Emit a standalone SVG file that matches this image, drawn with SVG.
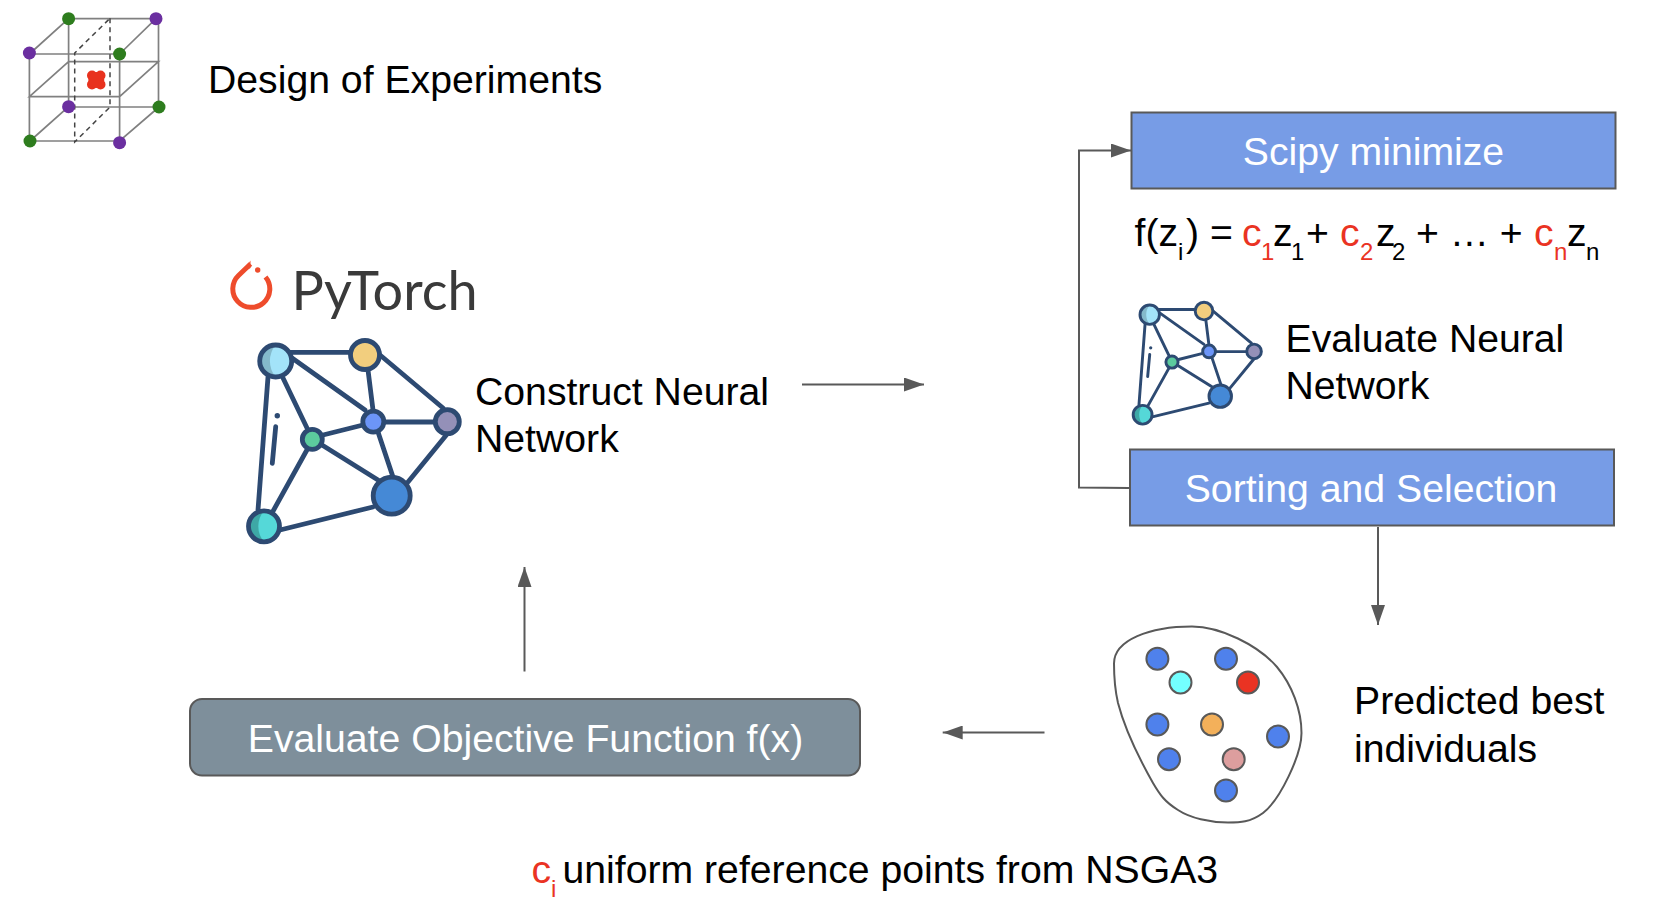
<svg xmlns="http://www.w3.org/2000/svg" xmlns:xlink="http://www.w3.org/1999/xlink" width="1656" height="912" viewBox="0 0 1656 912">
<style>
text{font-family:"Liberation Sans",Arial,sans-serif;font-size:39.2px;fill:#000}
.w{fill:#fff;text-anchor:middle}
.r{fill:#ea3323}
.s{font-size:24px}
.conn{fill:none;stroke:#595959;stroke-width:2}
.box{fill:#779ce6;stroke:#595959;stroke-width:2}
.cube{fill:none;stroke:#808080;stroke-width:1.700}
.dash{fill:none;stroke:#444;stroke-width:1.500;stroke-dasharray:5 4}
.pu{fill:#6b2fa0}.gr{fill:#2e7d1e}
.e{fill:none;stroke:#2d4a72;stroke-width:4.800;stroke-linecap:round}
.o{fill:none;stroke:#2d4a72;stroke-width:4.800}
.d{stroke:#595959;stroke-width:2}
.bl{fill:#4f81ec}
</style>
<defs>
<marker id="ah" markerUnits="userSpaceOnUse" markerWidth="20" markerHeight="14" refX="20" refY="7" orient="auto"><path d="M0 0L20 7L0 14Z" fill="#595959"/></marker>
<g id="net">
<path class="e" d="M276 352.300H365M292 358L365 410M368 370L373 410M380 355L443 408M373 422H447M283 378L307 428M268 377L258 510M323 435L363 425M378 432L393 477M322 445L378 480M308 448L272 513M408 482L448 433M373 507L280 530M275.700 426.700L272.300 463.300"/>
<circle cx="277.300" cy="415.700" r="2.700" fill="#2d4a72"/>
<circle cx="275.700" cy="361" r="16" fill="#a3e3f9"/>
<path d="M275.700 345A16 16 0 1 0 275.700 377A25 25 0 0 1 275.700 345Z" fill="#84b9cb"/>
<circle class="o" cx="275.700" cy="361" r="16"/>
<circle class="o" cx="365" cy="355" r="14.500" style="fill:#f2ce7e"/>
<circle class="o" cx="447.300" cy="421.700" r="12" style="fill:#9490b8"/>
<circle class="o" cx="373.300" cy="421.700" r="10.500" style="fill:#6c95f8"/>
<circle class="o" cx="312.300" cy="439.300" r="10" style="fill:#5ccb9e"/>
<circle class="o" cx="391.700" cy="495.700" r="18.500" style="fill:#4589d6"/>
<circle cx="264" cy="526.300" r="15.500" fill="#55d8d8"/>
<path d="M264 510.800A15.500 15.500 0 1 0 264 541.800A24 24 0 0 1 264 510.800Z" fill="#3ea8a6"/>
<circle class="o" cx="264" cy="526.300" r="15.500"/>
</g>
</defs>
<g id="connectors">
<path class="conn" marker-end="url(#ah)" d="M1129 488L1079 487.500V150.500H1131"/>
<path class="conn" marker-end="url(#ah)" d="M1378 527V625"/>
<path class="conn" marker-end="url(#ah)" d="M802 384.500H924"/>
<path class="conn" marker-end="url(#ah)" d="M1044.500 732.500H942.700"/>
<path class="conn" marker-end="url(#ah)" d="M524.500 671.500V567"/>
</g>
<g id="doe">
<path class="cube" d="M68.600 18.700H156L119.600 54H29.400ZM156 18.700L158.500 24V107M119.600 54V142.700M29.400 53V141H119.600L159 107H68.600V18.700M30 141L68.600 106.700M68.600 61.700H158.400L119.600 96.700H29.400Z"/>
<path class="dash" d="M110 18.300V107L74.700 142V53L110 18.300"/>
<circle class="gr" cx="68.600" cy="18.700" r="6.500"/><circle class="pu" cx="156" cy="18.700" r="6.500"/>
<circle class="pu" cx="29.400" cy="53" r="6.500"/><circle class="gr" cx="119.600" cy="54" r="6.500"/>
<circle class="pu" cx="68.600" cy="106.700" r="6.500"/><circle class="gr" cx="159" cy="107" r="6.500"/>
<circle class="gr" cx="30" cy="141" r="6.500"/><circle class="pu" cx="119.600" cy="142.700" r="6.500"/>
<g fill="#e8321e"><circle cx="92" cy="75.500" r="5"/><circle cx="100.500" cy="75.500" r="5"/><circle cx="92" cy="84.500" r="5"/><circle cx="100.500" cy="84.500" r="5"/><circle cx="96.300" cy="80" r="8"/></g>
<text x="208" y="92.500">Design of Experiments</text>
</g>
<g id="pytorch">
<path d="M265.500 277A18.500 18.500 0 1 1 238.500 275.500L250.500 264" fill="none" stroke="#ee4c2c" stroke-width="5"/>
<path d="M250.500 260.500V268L243 272Z" fill="#ee4c2c"/>
<circle cx="257.700" cy="270" r="2.700" fill="#ee4c2c"/>
<text x="291.500" y="309.500" style="font-family:Lato,'Liberation Sans',sans-serif;font-size:54px;fill:#3a3a3a">PyTorch</text>
</g>
<g id="construct">
<use xlink:href="#net" href="#net"/>
<text x="475" y="405">Construct Neural</text>
<text x="475" y="452">Network</text>
</g>
<g id="scipy">
<rect class="box" x="1131.500" y="112.500" width="484" height="76"/>
<text class="w" x="1373.500" y="165">Scipy minimize</text>
</g>
<g id="formula">
<text x="1134.500" y="245.500">f(z<tspan class="s" x="1178" y="259.500">i</tspan><tspan x="1186" y="245.500">) =</tspan><tspan class="r" x="1242" y="245.500">c</tspan><tspan class="s r" x="1261" y="259.500">1</tspan><tspan x="1273" y="245.500">z</tspan><tspan class="s" x="1291" y="259.500">1</tspan><tspan x="1306" y="245.500">+</tspan><tspan class="r" x="1340" y="245.500">c</tspan><tspan class="s r" x="1360" y="259.500">2</tspan><tspan x="1376" y="245.500">z</tspan><tspan class="s" x="1392" y="259.500">2</tspan><tspan x="1416" y="245.500">+ … +</tspan><tspan class="r" x="1534" y="245.500">c</tspan><tspan class="s r" x="1554" y="259.500">n</tspan><tspan x="1567" y="245.500">z</tspan><tspan class="s" x="1586" y="259.500">n</tspan></text>
</g>
<g id="evaluate-network">
<use xlink:href="#net" href="#net" transform="translate(982.100 96.300) scale(0.608 0.605)"/>
<text x="1285.500" y="352">Evaluate Neural</text>
<text x="1285.500" y="399">Network</text>
</g>
<g id="sorting">
<rect class="box" x="1130" y="449.500" width="484" height="76"/>
<text class="w" x="1371" y="502">Sorting and Selection</text>
</g>
<g id="individuals">
<path d="M1114 663.500C1114 640 1150 626.500 1192 626.500C1220 626.500 1258 645 1277 667C1292 685 1301.500 710 1301.500 733C1301.500 755 1280 800 1263 813C1250 822.500 1240 822.500 1228 822.500C1210 822.500 1190 818 1178 810C1165 802 1160 795 1153 783C1140 760 1125 730 1118 703C1115 690 1114 680 1114 663.500Z" fill="#fff" stroke="#595959" stroke-width="2"/>
<circle class="d bl" cx="1157.400" cy="658.800" r="11"/><circle class="d bl" cx="1226" cy="658.800" r="11"/>
<circle class="d" fill="#73ffff" cx="1180.500" cy="682.500" r="11"/><circle class="d" fill="#ea3323" cx="1248" cy="682.500" r="11"/>
<circle class="d bl" cx="1157.400" cy="724.500" r="11"/><circle class="d" fill="#f3b05a" cx="1212" cy="724.500" r="11"/>
<circle class="d bl" cx="1278" cy="736.500" r="11"/><circle class="d bl" cx="1169" cy="759.200" r="11"/>
<circle class="d" fill="#dd9e9e" cx="1233.700" cy="759.200" r="11"/><circle class="d bl" cx="1226" cy="790.500" r="11"/>
<text x="1354" y="714">Predicted best</text>
<text x="1354" y="762">individuals</text>
</g>
<g id="objective">
<rect x="190" y="699" width="670" height="76.500" rx="12" fill="#7e8f9b" stroke="#595959" stroke-width="2"/>
<text class="w" x="525.500" y="751.500">Evaluate Objective Function f(x)</text>
</g>
<g id="note">
<text x="531.500" y="883"><tspan class="r">c</tspan><tspan class="s r" x="551" y="897">i</tspan><tspan x="562.500" y="883">uniform reference points from NSGA3</tspan></text>
</g>
</svg>
